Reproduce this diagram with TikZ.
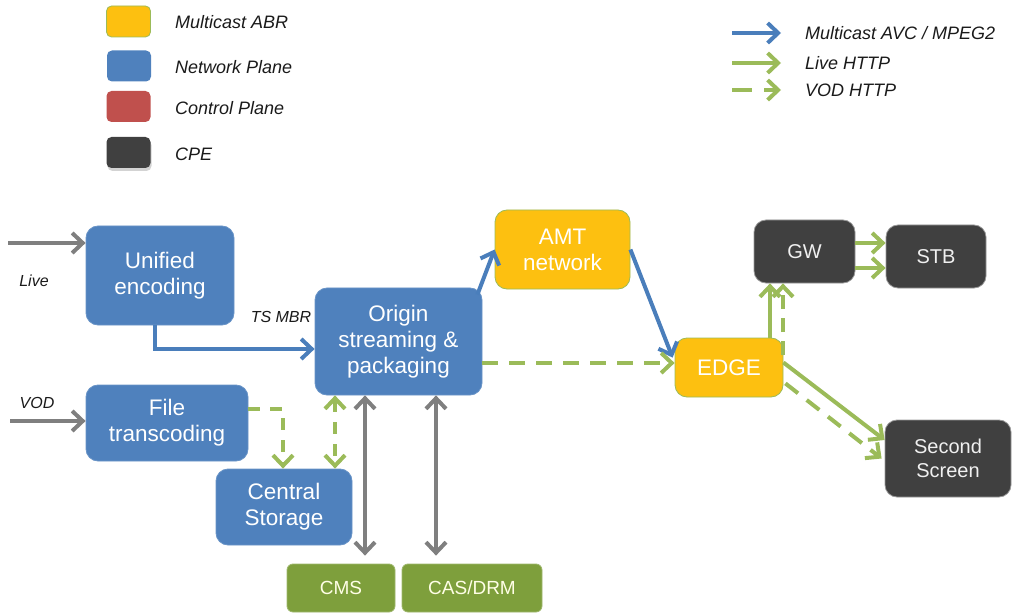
\documentclass[tikz,border=0pt]{standalone}
\usepackage{fontspec}
\setmainfont{Liberation Sans}
\usetikzlibrary{arrows.meta,calc,shadows}

\definecolor{netblue}{HTML}{4F81BD}
\definecolor{abryellow}{HTML}{FDC010}
\definecolor{ctrlred}{HTML}{C0504D}
\definecolor{cpegray}{HTML}{404040}
\definecolor{srvgreen}{HTML}{7E9F3C}
\definecolor{httpgreen}{HTML}{9BBB59}
\definecolor{linkgray}{HTML}{7F7F7F}
\definecolor{mcblue}{HTML}{4A7EBB}
\definecolor{inktext}{HTML}{1A1A1A}

\tikzset{
  box/.style={rounded corners=12bp, align=center, inner sep=0pt, text=white,
    line width=0.8bp, font=\fontsize{22.5bp}{26bp}\selectfont},
  netbox/.style={box, fill=netblue, draw=netblue!85!white},
  abrbox/.style={box, fill=abryellow, draw=httpgreen},
  cpebox/.style={box, fill=cpegray, draw=gray!80, text=white!94!black,
    font=\fontsize{20bp}{24bp}\selectfont},
  srvbox/.style={box, rounded corners=6bp, fill=srvgreen, draw=srvgreen!75!white,
    text=white!90!yellow, font=\fontsize{19bp}{22bp}\selectfont},
  legbox/.style={rounded corners=5bp, minimum width=44bp, minimum height=31bp, inner sep=0pt},
  legtext/.style={anchor=west, inner sep=0pt, text=inktext, font=\fontsize{18bp}{20bp}\selectfont\itshape},
  sidelabel/.style={inner sep=0pt, text=inktext, font=\fontsize{16bp}{18bp}\selectfont\itshape},
  >={Straight Barb[length=10.5bp,width=20bp]},
  flow/.style={line width=4bp, ->},
  grayflow/.style={flow, draw=linkgray},
  blueflow/.style={flow, draw=mcblue},
  liveflow/.style={flow, draw=httpgreen},
  vodflow/.style={liveflow, dash pattern=on 16bp off 11bp},
}

\begin{document}
\begin{tikzpicture}[x=1bp, y=-1bp]
\path[use as bounding box] (0,0) rectangle (1012,614);

% ---- legend: colour key ----
\node[legbox, fill=abryellow, draw=httpgreen, line width=0.8bp] (keyabr) at (128.5,21.5) {};
\node[legbox, fill=netblue] (keynet) at (129,66) {};
\node[legbox, fill=ctrlred] (keyctl) at (128.5,106.5) {};
\node[legbox, fill=cpegray, drop shadow={opacity=0.35, shadow xshift=1bp, shadow yshift=-3bp}] (keycpe) at (128.5,152.5) {};
\node[legtext] (txtabr) at (175,22) {Multicast ABR};
\node[legtext] (txtnet) at (175,67) {Network Plane};
\node[legtext] (txtctl) at (175,108) {Control Plane};
\node[legtext] (txtcpe) at (175,154) {CPE};

% ---- legend: link types ----
\coordinate (keyMcA) at (732,33);  \coordinate (keyMcB) at (781,33);
\coordinate (keyLvA) at (732,63);  \coordinate (keyLvB) at (781,63);
\coordinate (keyVdA) at (732,90);  \coordinate (keyVdB) at (781,90);
\draw[blueflow] (keyMcA) -- (keyMcB);
\draw[liveflow] (keyLvA) -- (keyLvB);
\draw[vodflow, dash pattern=on 20bp off 12bp] (keyVdA) -- (keyVdB);
\node[legtext] (txtmc) at (805,33) {Multicast AVC / MPEG2};
\node[legtext] (txtlv) at (805,63) {Live HTTP};
\node[legtext] (txtvd) at (805,90) {VOD HTTP};

% ---- head end ----
\node[netbox, minimum width=148bp, minimum height=99bp] (ue) at (160,275.5) {Unified\\encoding};
\node[netbox, minimum width=162bp, minimum height=76bp] (ft) at (167,423) {File\\transcoding};
\node[netbox, minimum width=167bp, minimum height=107bp] (og) at (398.5,341.5) {Origin\\streaming \&\\packaging};
\node[netbox, minimum width=136bp, minimum height=76bp] (cs) at (284,507) {Central\\Storage};
\node[srvbox, minimum width=108bp, minimum height=48bp] (cms) at (341,588) {CMS};
\node[srvbox, minimum width=140bp, minimum height=48bp] (cas) at (472,588) {CAS/DRM};

% ---- distribution ----
\node[abrbox, minimum width=135bp, minimum height=79bp] (amt) at (562.5,249.5) {AMT\\network};
\node[abrbox, minimum width=108bp, minimum height=59bp] (edge) at (729,367.5) {EDGE};

% ---- home ----
\node[cpebox, minimum width=101bp, minimum height=63bp] (gw) at (804.5,251.5) {GW};
\node[cpebox, minimum width=100bp, minimum height=63bp] (stb) at (936,256.5) {STB};
\node[cpebox, minimum width=126bp, minimum height=77bp] (ss) at (948,458.5) {Second\\Screen};

% ---- inputs ----
\coordinate (liveIn) at (8,243);
\coordinate (vodIn) at (10,421);
\draw[grayflow] (liveIn) -- (liveIn -| ue.west);
\draw[grayflow] (vodIn) -- (vodIn -| ft.west);
\node[sidelabel] (lblLive) at (34,281) {Live};
\node[sidelabel] (lblVod) at (37,403) {VOD};

% ---- multicast path ----
\coordinate (tsBend) at (155,349);
\draw[blueflow] (tsBend |- ue.south) |- (tsBend -| og.west);
\node[sidelabel] (lblTs) at (281,317) {TS MBR};
\draw[blueflow] ($(og.north east)+(-5,7)$) -- (amt.west);
\draw[blueflow] (amt.east) -- ($(edge.north west)+(-2,20)$);

% ---- VOD HTTP from origin ----
\coordinate (vodRow) at (0,363);
\draw[vodflow] (vodRow -| og.east) -- (vodRow -| edge.west);

% ---- storage links ----
\coordinate (ftOut) at (283,409);
\draw[vodflow, dash pattern=on 12bp off 10bp] (ftOut -| ft.east) -| (ftOut |- cs.north);
\coordinate (stLink) at (335,0);
\draw[vodflow, <->, dash pattern=on 12bp off 10bp] (stLink |- og.south) -- (stLink |- cs.north);

% ---- control links ----
\coordinate (cmsLink) at (365,0);
\coordinate (casLink) at (436,0);
\draw[grayflow, <->, shorten >=8bp] (cmsLink |- og.south) -- (cmsLink |- cms.north);
\draw[grayflow, <->, shorten >=8bp] (casLink |- og.south) -- (casLink |- cas.north);

% ---- edge to home ----
\coordinate (gwLive) at (770,0);
\coordinate (gwVod) at (783,355);
\draw[liveflow] (gwLive |- edge.north) -- (gwLive |- gw.south);
\draw[vodflow, dash pattern=on 14bp off 9bp] (gwVod) -- (gwVod |- gw.south);
\coordinate (stbRowA) at (0,243);
\coordinate (stbRowB) at (0,268);
\draw[liveflow] (stbRowA -| gw.east) -- (stbRowA -| stb.west);
\draw[liveflow] (stbRowB -| gw.east) -- (stbRowB -| stb.west);
\coordinate (ssRow) at (0,440);
\draw[liveflow] ($(edge.east)+(0,-5)$) -- (ssRow -| ss.west);
\draw[vodflow] ($(edge.south east)+(2,-14)$) -- ($(ss.west)+(-3,0)$);
\end{tikzpicture}
\end{document}
